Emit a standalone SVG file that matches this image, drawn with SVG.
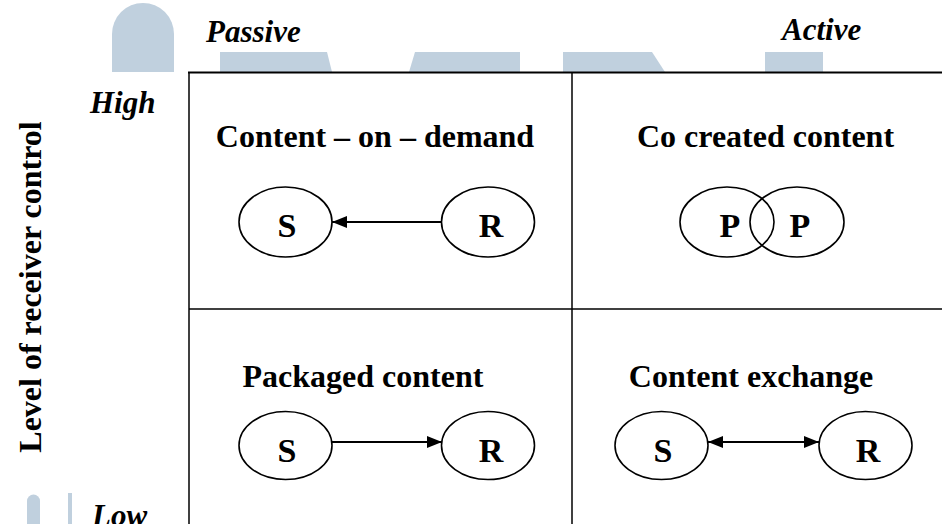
<svg xmlns="http://www.w3.org/2000/svg" width="942" height="524" viewBox="0 0 942 524">
<defs>
<style>
.wm{fill:#c0d0de}
.grid{stroke:#000;stroke-width:1.5;fill:none}
.el{fill:#fff;stroke:#000;stroke-width:1.6}
.t{font-family:"Liberation Serif","Times New Roman",serif;font-weight:bold;fill:#000}
.it{font-style:italic;font-size:31px}
.title{font-size:32px;text-anchor:middle}
.lbl{font-size:34px;text-anchor:middle}
.conn{stroke:#000;stroke-width:2;fill:none}
</style>
<marker id="ah" viewBox="0 0 15 12" refX="15" refY="6" markerWidth="15" markerHeight="12" markerUnits="userSpaceOnUse" orient="auto-start-reverse">
<path d="M0,0 L15,6 L0,12 Z" fill="#000"/>
</marker>
</defs>
<rect width="942" height="524" fill="#fff"/>
<g id="watermark">
<path class="wm" d="M112,72 L112,34 A31,31 0 0 1 174,34 L174,72 Z"/>
<path class="wm" d="M220,52 L327,52 L332,72 L220,72 Z"/>
<path class="wm" d="M415,52 L520,52 L520,72 L409,72 Z"/>
<path class="wm" d="M563,52 L652,52 L665,72 L563,72 Z"/>
<rect class="wm" x="765" y="52" width="58" height="20"/>
<path class="wm" d="M27,524 L27,501 A6.5,6.5 0 0 1 40,501 L40,524 Z"/>
<rect class="wm" x="68" y="493" width="4" height="31"/>
</g>
<g id="grid">
<line class="grid" x1="188" y1="72.5" x2="942" y2="72.5" style="stroke-width:2"/>
<line class="grid" x1="189" y1="72" x2="189" y2="524"/>
<line class="grid" x1="572" y1="72" x2="572" y2="524"/>
<line class="grid" x1="189" y1="309" x2="942" y2="309"/>
</g>
<g id="axis-labels">
<text class="t it" x="206" y="42">Passive</text>
<text class="t it" x="782" y="40">Active</text>
<text class="t it" x="90" y="113">High</text>
<text class="t it" x="92" y="526">Low</text>
<text class="t" font-size="32" text-anchor="middle" transform="translate(41,287) rotate(-90)">Level of receiver control</text>
</g>
<g id="content-on-demand">
<text class="t title" x="375" y="147">Content – on – demand</text>
<g id="cod-S"><ellipse class="el" cx="285.5" cy="222" rx="46.5" ry="35"/><text class="t lbl" x="287" y="237">S</text></g>
<g id="cod-R"><ellipse class="el" cx="488" cy="222" rx="46.5" ry="35"/><text class="t lbl" x="491" y="237">R</text></g>
</g>
<g id="co-created-content">
<text class="t title" x="765.5" y="147">Co created content</text>
<g id="ccc-P1"><ellipse class="el" cx="727" cy="222" rx="47" ry="35" style="fill:none"/><text class="t lbl" x="730" y="237">P</text></g>
<g id="ccc-P2"><ellipse class="el" cx="797" cy="222" rx="47" ry="35" style="fill:none"/><text class="t lbl" x="800" y="237">P</text></g>
</g>
<g id="packaged-content">
<text class="t title" x="363" y="387">Packaged content</text>
<g id="pc-S"><ellipse class="el" cx="285.5" cy="445.5" rx="46.5" ry="34"/><text class="t lbl" x="287" y="462">S</text></g>
<g id="pc-R"><ellipse class="el" cx="488" cy="445.5" rx="46.5" ry="34"/><text class="t lbl" x="491" y="462">R</text></g>
</g>
<g id="content-exchange">
<text class="t title" x="751" y="387">Content exchange</text>
<g id="ce-S"><ellipse class="el" cx="661.5" cy="445.5" rx="46.5" ry="34"/><text class="t lbl" x="663" y="462">S</text></g>
<g id="ce-R"><ellipse class="el" cx="865.5" cy="445.5" rx="46.5" ry="34"/><text class="t lbl" x="868" y="462">R</text></g>
</g>
<g id="connectors">
<line class="conn" x1="442" y1="222" x2="332" y2="222" marker-end="url(#ah)"/>
<line class="conn" x1="332" y1="442" x2="442" y2="442" marker-end="url(#ah)"/>
<line class="conn" x1="708" y1="442" x2="819" y2="442" marker-start="url(#ah)" marker-end="url(#ah)"/>
</g>
</svg>
